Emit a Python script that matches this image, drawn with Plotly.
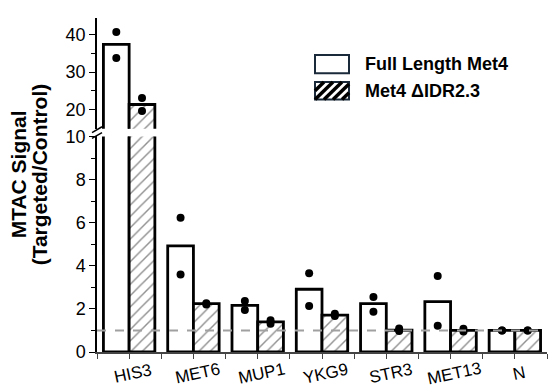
import plotly.graph_objects as go

genes = ["HIS3", "MET6", "MUP1", "YKG9", "STR3", "MET13", "N"]
full_mean = [37.3, 4.92, 2.16, 2.91, 2.24, 2.34, 1.0]
didr_mean = [21.4, 2.24, 1.40, 1.71, 1.01, 1.0, 1.0]
full_rep1 = [40.6, 6.23, 2.37, 3.65, 2.55, 3.52, 1.0]
full_rep2 = [33.7, 3.59, 1.95, 2.13, 1.87, 1.22, 1.0]
didr_rep1 = [23.1, 2.26, 1.47, 1.78, 1.09, 1.08, 1.0]
didr_rep2 = [19.7, 2.20, 1.31, 1.67, 0.97, 0.95, 1.0]
series_names = ["Full Length Met4", "Met4 \u0394IDR2.3"]
y_title_lines = ["MTAC Signal", "(Targeted/Control)"]

FONT = "Liberation Sans, Arial, sans-serif"
# page body has an 8px default margin; size the figure so it ends at 560x392
OFF = 8
W, H = 560 - OFF, 392 - OFF
PL, PR, PT, PB = 97, 547, OFF, 352          # plot area in window pixels
ML, MR, MT, MB = PL - OFF, 560 - PR, 0, 392 - PB
PW, PH = PR - PL, PB - PT


def px2x(px):
    return (px - PL) / PW


def py2y(py):
    return (PB - py) / PH


idx = list(range(len(genes)))
x_full = [i - 0.2 for i in idx]
x_didr = [i + 0.2 for i in idx]

fig = go.Figure()
for xa, ya in [("x", "y"), ("x2", "y2")]:
    fig.add_trace(go.Bar(x=idx, y=full_mean, xaxis=xa, yaxis=ya, name=series_names[0],
                         marker=dict(color="white", line=dict(color="black", width=2.8)),
                         showlegend=False))
    fig.add_trace(go.Bar(x=idx, y=didr_mean, xaxis=xa, yaxis=ya, name=series_names[1],
                         marker=dict(color="white", line=dict(color="black", width=2.8),
                                     pattern=dict(shape="/", fgcolor="#222222", bgcolor="white",
                                                  size=8, solidity=0.18)),
                         showlegend=False))
    for xs, ys in [(x_full, full_rep1), (x_full, full_rep2), (x_didr, didr_rep1), (x_didr, didr_rep2)]:
        fig.add_trace(go.Scatter(x=xs, y=ys, xaxis=xa, yaxis=ya, mode="markers",
                                 marker=dict(color="black", size=8), showlegend=False,
                                 cliponaxis=True))

lower_top = 130
upper_bottom = 122
axis_common = dict(showline=True, linecolor="black", linewidth=1.5, ticks="outside",
                   ticklen=6, tickwidth=1.2, tickcolor="black", showgrid=False, zeroline=False,
                   tickfont=dict(family=FONT, size=18, color="black"))

fig.update_layout(
    width=W, height=H,
    margin=dict(l=ML, r=MR, t=MT, b=MB, pad=0),
    paper_bgcolor="white", plot_bgcolor="white",
    barmode="group", bargap=0.2, bargroupgap=0,
    showlegend=False,
    xaxis=dict(domain=[0, 1], anchor="y", range=[-0.5, 6.5], showline=True, linecolor="#444444",
               linewidth=1.5, ticks="outside", ticklen=5, tickcolor="#444444",
               tickvals=idx, showticklabels=False, showgrid=False, zeroline=False,
               minor=dict(ticks="outside", ticklen=5, tickcolor="#444444",
                          tickvals=[i - 0.5 for i in range(len(genes) + 1)])),
    xaxis2=dict(domain=[0, 1], anchor="y2", matches="x", visible=False),
    yaxis=dict(domain=[0, py2y(lower_top)], anchor="x", range=[0, 10],
               tickvals=[0, 2, 4, 6, 8, 10],
               minor=dict(ticks="outside", ticklen=4, tickcolor="black", dtick=1, tick0=0),
               **axis_common),
    yaxis2=dict(domain=[py2y(upper_bottom), 1], anchor="x2", range=[15, 44.3],
                tickvals=[20, 30, 40],
                minor=dict(ticks="outside", ticklen=4, tickcolor="black", tickvals=[25, 35]),
                **axis_common),
)

# category labels (rotated)
for i, g in enumerate(genes):
    fig.add_annotation(text=g, xref="x", yref="paper", x=i + 0.06, y=py2y(374),
                       xanchor="center", yanchor="middle", textangle=-12, showarrow=False,
                       font=dict(family=FONT, size=17, color="black"))

# reference line at 1
fig.add_shape(type="line", xref="paper", yref="y", x0=0, x1=1, y0=1, y1=1,
              line=dict(color="#a0a0a0", width=2, dash="dash"), layer="above")

# axis break marks
for py in [upper_bottom + 1, lower_top - 1]:
    fig.add_shape(type="line", xref="paper", yref="paper",
                  x0=px2x(PL - 5), y0=py2y(py + 3), x1=px2x(PL + 5), y1=py2y(py - 3),
                  line=dict(color="black", width=1.5))

# y title (two lines, placed separately)
for line_text, cx in zip(y_title_lines, [18, 39]):
    fig.add_annotation(text="<b>" + line_text + "</b>", xref="paper", yref="paper",
                       x=px2x(cx), y=py2y(169), xanchor="center", yanchor="middle",
                       textangle=-90, showarrow=False,
                       font=dict(family=FONT, size=21, color="black"))

# manual legend
bx0, bx1 = 315, 349
boxes = [(46, 65), (74, 92)]
for k, (by0, by1) in enumerate(boxes):
    fig.add_shape(type="rect", xref="paper", yref="paper",
                  x0=px2x(bx0), x1=px2x(bx1), y0=py2y(by1), y1=py2y(by0),
                  line=dict(color="#1a2a3a", width=2), fillcolor="white")
    fig.add_annotation(text="<b>" + series_names[k] + "</b>", xref="paper", yref="paper",
                       x=px2x(363), y=py2y((by0 + by1) / 2), xanchor="left", yanchor="middle",
                       showarrow=False, font=dict(family=FONT, size=18, color="black"))

# hatch stripes in second legend box
by0, by1 = boxes[1]
h = by1 - by0
off = -h
while off < (bx1 - bx0):
    xa0, ya0 = bx0 + off, by1
    xa1, ya1 = bx0 + off + h, by0
    if xa0 < bx0:
        ya0 = by1 - (bx0 - xa0)
        xa0 = bx0
    if xa1 > bx1:
        ya1 = by0 + (xa1 - bx1)
        xa1 = bx1
    if xa1 > xa0:
        fig.add_shape(type="line", xref="paper", yref="paper",
                      x0=px2x(xa0), y0=py2y(ya0), x1=px2x(xa1), y1=py2y(ya1),
                      line=dict(color="black", width=3.5))
    off += 9

fig.write_html("out.html")
